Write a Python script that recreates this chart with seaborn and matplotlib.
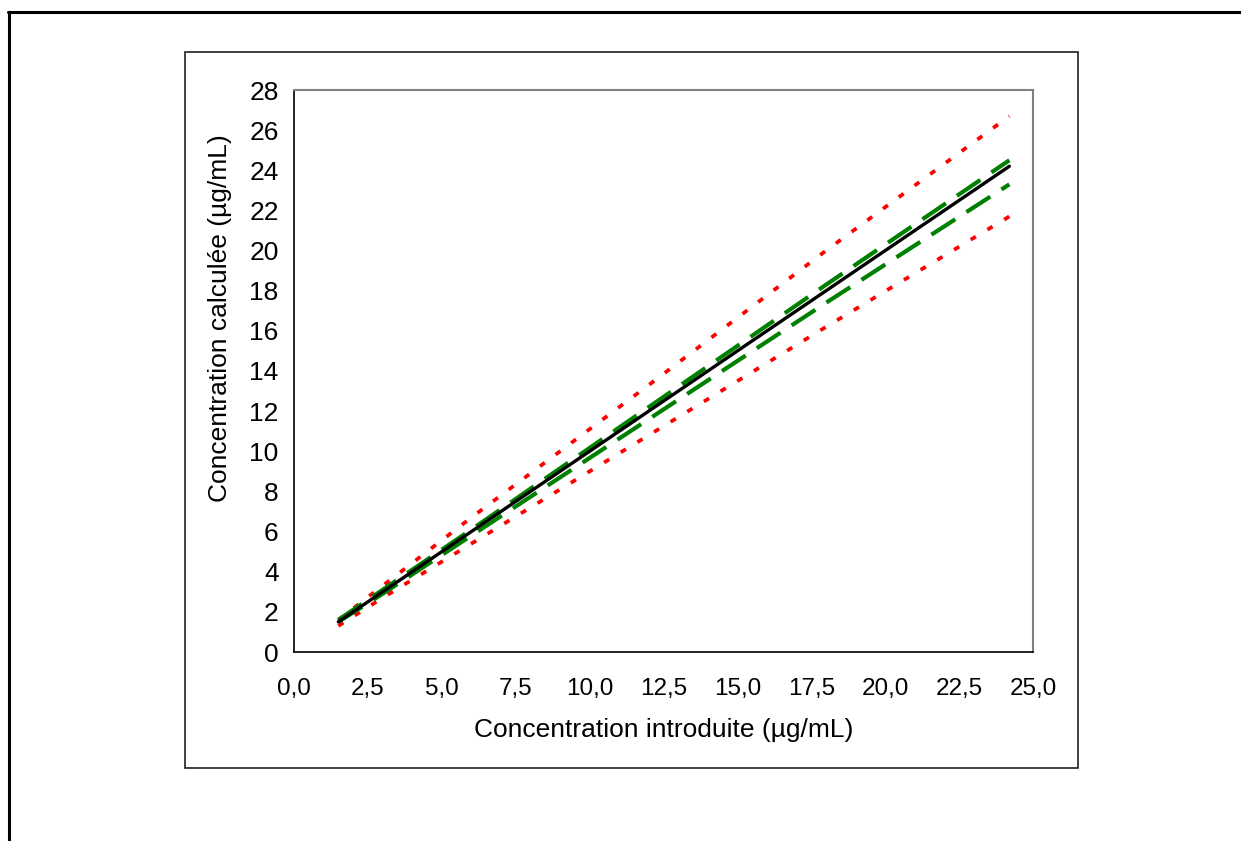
"""Concentration calculée vs introduite, with tolerance limits (Excel-style figure)."""

import matplotlib

matplotlib.use("Agg")

import matplotlib.pyplot as plt
import matplotlib.ticker as mtick
import pandas as pd
import seaborn as sns
from matplotlib.lines import Line2D
from matplotlib.patches import Rectangle

# concentration levels (µg/mL)
conc_introduite = [1.5, 3.0, 6.0, 12.0, 18.0, 24.2]
# identity line
conc_calculee = [1.5, 3.0, 6.0, 12.0, 18.0, 24.2]
# acceptance limits (red dotted)
limite_haute = [1.6, 3.3, 6.7, 13.3, 20.0, 26.7]
limite_basse = [1.3, 2.7, 5.4, 10.8, 16.2, 21.7]
# tolerance limits (green dashed)
tolerance_haute = [1.6, 3.1, 6.1, 12.2, 18.3, 24.5]
tolerance_basse = [1.5, 2.9, 5.8, 11.6, 17.4, 23.3]

x_ticks = [0, 2.5, 5, 7.5, 10, 12.5, 15, 17.5, 20, 22.5, 25]
y_ticks = list(range(0, 29, 2))

sns.set_style("white")
plt.rcParams["font.family"] = ["Liberation Sans", "DejaVu Sans"]
plt.rcParams["text.color"] = "black"
plt.rcParams["axes.labelcolor"] = "black"

df = pd.DataFrame(
    {
        "x": conc_introduite,
        "ident": conc_calculee,
        "lim_h": limite_haute,
        "lim_b": limite_basse,
        "tol_h": tolerance_haute,
        "tol_b": tolerance_basse,
    }
)

fig = plt.figure(figsize=(12.41, 8.41), dpi=100)
ax = fig.add_axes([294 / 1241, 1 - 652 / 841, (1033 - 294) / 1241, (652 - 90) / 841])

for col in ["lim_h", "lim_b"]:
    sns.lineplot(data=df, x="x", y=col, ax=ax, color="#ff0000", linewidth=2.7, legend=False)
for col in ["tol_h", "tol_b"]:
    sns.lineplot(data=df, x="x", y=col, ax=ax, color="#008000", linewidth=3.0, legend=False)
sns.lineplot(data=df, x="x", y="ident", ax=ax, color="black", linewidth=2.4, legend=False)

lines = ax.get_lines()
for ln in lines[0:2]:
    ln.set_dashes((1.6, 3.6))
    ln.set_dash_capstyle("butt")
for ln in lines[2:4]:
    ln.set_dashes((6.8, 3.2))
    ln.set_dash_capstyle("butt")

ax.set_xlim(0, 25)
ax.set_ylim(0, 28)
ax.set_xticks(x_ticks)
ax.set_yticks(y_ticks)
ax.xaxis.set_major_formatter(mtick.FuncFormatter(lambda v, _: f"{v:.1f}".replace(".", ",")))
ax.yaxis.set_major_formatter(mtick.FuncFormatter(lambda v, _: f"{v:.0f}"))
ax.tick_params(axis="both", direction="out", length=5, width=1, colors="black")
ax.tick_params(axis="x", pad=14, labelsize=17.5)
ax.tick_params(axis="y", pad=6, labelsize=19)

ax.set_xlabel("Concentration introduite (µg/mL)", fontsize=19)
ax.set_ylabel("Concentration calculée (µg/mL)", fontsize=19)
ax.xaxis.set_label_coords(0.5, -0.118)
ax.yaxis.set_label_coords(-0.084, 0.594)

for side in ["left", "bottom"]:
    ax.spines[side].set_color("black")
    ax.spines[side].set_linewidth(1.2)
for side in ["top", "right"]:
    ax.spines[side].set_color("#808080")
    ax.spines[side].set_linewidth(1.5)

# chart area box and outer page frame
fig.add_artist(Rectangle((185 / 1241, 1 - 768 / 841), (1078 - 185) / 1241, (768 - 52) / 841,
                         transform=fig.transFigure, fill=False, edgecolor="#202020", linewidth=1.2))
fig.add_artist(Line2D([8 / 1241, 1], [1 - 12 / 841, 1 - 12 / 841], transform=fig.transFigure,
                      color="black", linewidth=2.2))
fig.add_artist(Line2D([9 / 1241, 9 / 1241], [1 - 12 / 841, 0], transform=fig.transFigure,
                      color="black", linewidth=2.2))

fig.savefig("out.png", dpi=100)
